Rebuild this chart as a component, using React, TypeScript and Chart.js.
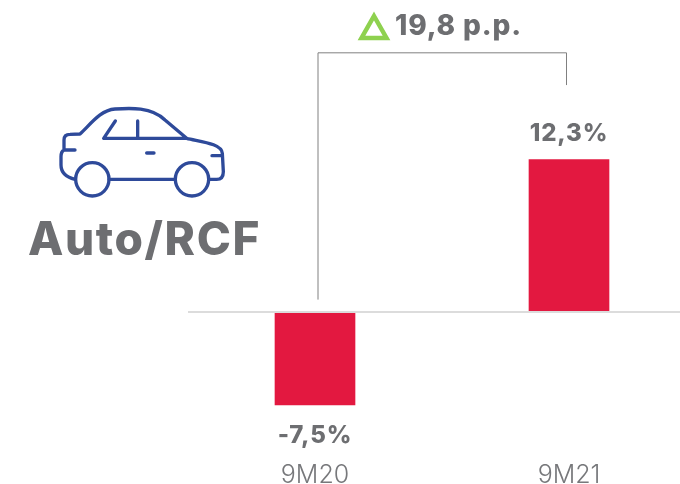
import React, { useEffect, useRef } from "react";
import { Chart, registerables } from "chart.js";

Chart.register(...registerables);

const categories = ["9M20", "9M21"];
const values = [-7.5, 12.3];
const valueLabels = ["-7,5%", "12,3%"];
const deltaLabel = "19,8 p.p.";
const sectorLabel = "Auto/RCF";
const FONT = "Inter, 'Open Sans', sans-serif";
const GRAY = "#6d6e71";

const drawCar = (ctx: CanvasRenderingContext2D) => {
  ctx.save();
  ctx.translate(40, 90);
  ctx.scale(1 / 3, 1 / 3);
  ctx.strokeStyle = "#2e4a9a";
  ctx.lineWidth = 10;
  ctx.lineCap = "round";
  ctx.lineJoin = "round";
  ctx.beginPath();
  ctx.moveTo(105, 268);
  ctx.quadraticCurveTo(63, 258, 63, 225);
  ctx.lineTo(63, 200);
  ctx.quadraticCurveTo(63, 185, 72, 180);
  ctx.lineTo(72, 150);
  ctx.quadraticCurveTo(72, 133, 90, 133);
  ctx.lineTo(120, 132);
  ctx.bezierCurveTo(150, 105, 180, 60, 225, 57);
  ctx.bezierCurveTo(270, 54, 335, 50, 375, 90);
  ctx.lineTo(440, 145);
  ctx.bezierCurveTo(480, 155, 545, 160, 547, 190);
  ctx.lineTo(550, 245);
  ctx.quadraticCurveTo(550, 268, 530, 268);
  ctx.lineTo(508, 268);
  ctx.moveTo(207, 268);
  ctx.lineTo(405, 268);
  ctx.moveTo(72, 180);
  ctx.lineTo(105, 180);
  ctx.moveTo(516, 197);
  ctx.lineTo(547, 197);
  ctx.moveTo(320, 189);
  ctx.lineTo(342, 189);
  ctx.moveTo(226, 93);
  ctx.lineTo(191, 145);
  ctx.lineTo(440, 145);
  ctx.moveTo(293, 93);
  ctx.lineTo(293, 145);
  ctx.stroke();
  ctx.beginPath();
  ctx.arc(157, 268, 50, 0, Math.PI * 2);
  ctx.stroke();
  ctx.beginPath();
  ctx.arc(456, 268, 50, 0, Math.PI * 2);
  ctx.stroke();
  ctx.restore();
};

const overlay = {
  id: "overlay",
  afterDatasetsDraw(chart: any) {
    const { ctx, scales } = chart;
    const x = scales.x;
    const y = scales.y;
    ctx.save();
    ctx.textAlign = "center";
    ctx.textBaseline = "middle";
    ctx.fillStyle = GRAY;
    ctx.font = `800 24px ${FONT}`;
    ctx.letterSpacing = "0.8px";
    values.forEach((v, i) => {
      const px = x.getPixelForValue(i);
      const py = y.getPixelForValue(v) + (v < 0 ? 31 : -26);
      ctx.fillText(valueLabels[i], px, py);
    });

    const lx = x.getPixelForValue(0) + 3;
    const rx = x.getPixelForValue(1) - 2.5;
    ctx.strokeStyle = "#808080";
    ctx.lineWidth = 1;
    ctx.beginPath();
    ctx.moveTo(lx, y.getPixelForValue(1));
    ctx.lineTo(lx, y.getPixelForValue(20.9));
    ctx.lineTo(rx, y.getPixelForValue(20.9));
    ctx.lineTo(rx, y.getPixelForValue(18.3));
    ctx.stroke();

    ctx.strokeStyle = "#8ed14f";
    ctx.lineWidth = 4.5;
    ctx.lineJoin = "miter";
    ctx.beginPath();
    ctx.moveTo(374, 16);
    ctx.lineTo(386.5, 38);
    ctx.lineTo(361.5, 38);
    ctx.closePath();
    ctx.stroke();

    ctx.fillStyle = GRAY;
    ctx.textAlign = "left";
    ctx.font = `800 28px ${FONT}`;
    ctx.letterSpacing = "0.85px";
    ctx.fillText(deltaLabel, 395, 27);
    ctx.font = `800 46px ${FONT}`;
    ctx.letterSpacing = "1.6px";
    ctx.fillText(sectorLabel, 28, 241);
    ctx.letterSpacing = "0px";
    drawCar(ctx);
    ctx.restore();
  },
};

export default function App() {
  const ref = useRef<HTMLCanvasElement>(null);
  useEffect(() => {
    document.body.style.overflow = "hidden";
    const chart = new Chart(ref.current!, {
      type: "bar",
      data: {
        labels: categories,
        datasets: [{ data: values, backgroundColor: "#e31840", barThickness: 80, borderSkipped: false }],
      },
      plugins: [overlay],
      options: {
        animation: false,
        responsive: false,
        layout: { padding: { left: 188, right: 0, top: 0, bottom: 0 } },
        plugins: { legend: { display: false }, tooltip: { enabled: false } },
        scales: {
          x: {
            grid: { display: false },
            border: { display: false },
            afterFit: (s: any) => { s.height = 32; },
            ticks: { color: "#77787b", font: { size: 25, family: FONT, weight: "300" }, padding: 0, maxRotation: 0 },
          },
          y: {
            min: -11.29,
            max: 25.16,
            afterBuildTicks: (s: any) => { s.ticks = [{ value: 0 }]; },
            afterFit: (s: any) => { s.width = 0; },
            ticks: { display: false },
            border: { display: false },
            grid: { color: "#dcdcdc", lineWidth: 2, drawTicks: false, z: 1 },
          },
        },
      },
    } as any);
    return () => chart.destroy();
  }, []);
  return (
    <div style={{ position: "fixed", left: 0, top: 0, width: 680, height: 484, overflow: "hidden", background: "#fff" }}>
      <canvas ref={ref} width={696} height={484} style={{ display: "block" }} />
    </div>
  );
}
